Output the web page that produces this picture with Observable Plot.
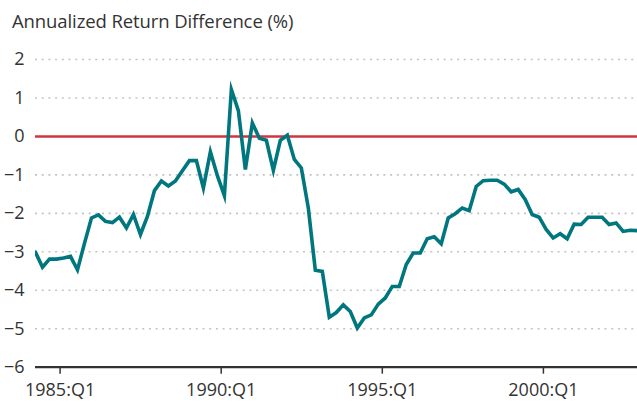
<!DOCTYPE html>
<html>
<head>
<meta charset="utf-8">
<script src="https://cdn.jsdelivr.net/npm/d3@7"></script>
<script src="https://cdn.jsdelivr.net/npm/@observablehq/plot@0.6"></script>
<style>
  body { margin: 0; background: #fff; }
  #title {
    font-family: "Open Sans", sans-serif;
    font-size: 18.5px;
    line-height: 22px;
    color: #333;
    height: 40px;
    box-sizing: border-box;
    padding-top: 10px;
    padding-left: 12px;
    white-space: nowrap;
    letter-spacing: -0.1px;
  }
  #chart svg { display: block; }
</style>
</head>
<body>
<div id="title">Annualized Return Difference (%)</div>
<div id="chart"></div>
<script>
const values = [
  -3.01, -3.40, -3.19, -3.19, -3.16, -3.12, -3.47, -2.78, -2.12, -2.04,
  -2.21, -2.24, -2.10, -2.38, -2.03, -2.55, -2.08, -1.41, -1.16, -1.29,
  -1.16, -0.89, -0.63, -0.63, -1.34, -0.40, -1.02, -1.54,  1.22,  0.67,
  -0.86,  0.35, -0.05, -0.10, -0.88, -0.10,  0.03, -0.60, -0.82, -1.86,
  -3.48, -3.51, -4.70, -4.58, -4.38, -4.55, -4.98, -4.72, -4.64, -4.36,
  -4.20, -3.90, -3.90, -3.33, -3.03, -3.03, -2.66, -2.61, -2.79, -2.12,
  -2.01, -1.86, -1.93, -1.30, -1.15, -1.14, -1.14, -1.24, -1.44, -1.38,
  -1.64, -2.03, -2.10, -2.42, -2.64, -2.53, -2.66, -2.28, -2.29, -2.10,
  -2.10, -2.10, -2.29, -2.25, -2.47, -2.44, -2.45
];
// Time of first observation (decimal year) and sampling interval (years)
const startYear = 1984.237;
const stepYears = 0.2171;
const endYear = 2002.92;

const xTickYears = [1985, 1990, 1995, 2000];
const xTickLabels = ["1985:Q1", "1990:Q1", "1995:Q1", "2000:Q1"];
const yTicks = [2, 1, 0, -1, -2, -3, -4, -5, -6];
const gridLevels = [2, 1, -1, -2, -3, -4, -5];
const referenceLevel = [0];
const baseLevel = [-6];

const table = values.map((v, i) => ({date: startYear + i * stepYears, value: v}));

const fmt = d => d < 0 ? "\u2212" + Math.abs(d) : String(d);

const chart = Plot.plot({
  width: 637,
  height: 362,
  marginLeft: 35,
  marginRight: 0,
  marginTop: 19,
  marginBottom: 35.3,
  style: {fontFamily: "'Open Sans', sans-serif", fontSize: "18px", color: "#333", background: "#fff"},
  x: {domain: [startYear, endYear]},
  y: {domain: [-6, 2]},
  marks: [
    Plot.ruleY(gridLevels, {stroke: "#c4c4c4", strokeWidth: 1.6, strokeDasharray: "2,4.7"}),
    Plot.ruleY(referenceLevel, {stroke: "#d1343f", strokeWidth: 2.6}),
    Plot.lineY(table, {x: "date", y: "value", stroke: "#00767e", strokeWidth: 3.6, strokeLinejoin: "miter", strokeMiterlimit: 6, clip: true}),
    Plot.ruleY(baseLevel, {stroke: "#333", strokeWidth: 2.2}),
    Plot.axisX(xTickYears, {
      tickFormat: d => xTickLabels[xTickYears.indexOf(d)],
      tickSize: 7, tickPadding: 9, stroke: "#333", strokeWidth: 1.5,
      fill: "#333", label: null
    }),
    Plot.axisY(yTicks, {tickSize: 0, tickPadding: 11, tickFormat: fmt, fill: "#333", label: null})
  ]
});
document.getElementById("chart").appendChild(chart);
</script>
</body>
</html>
